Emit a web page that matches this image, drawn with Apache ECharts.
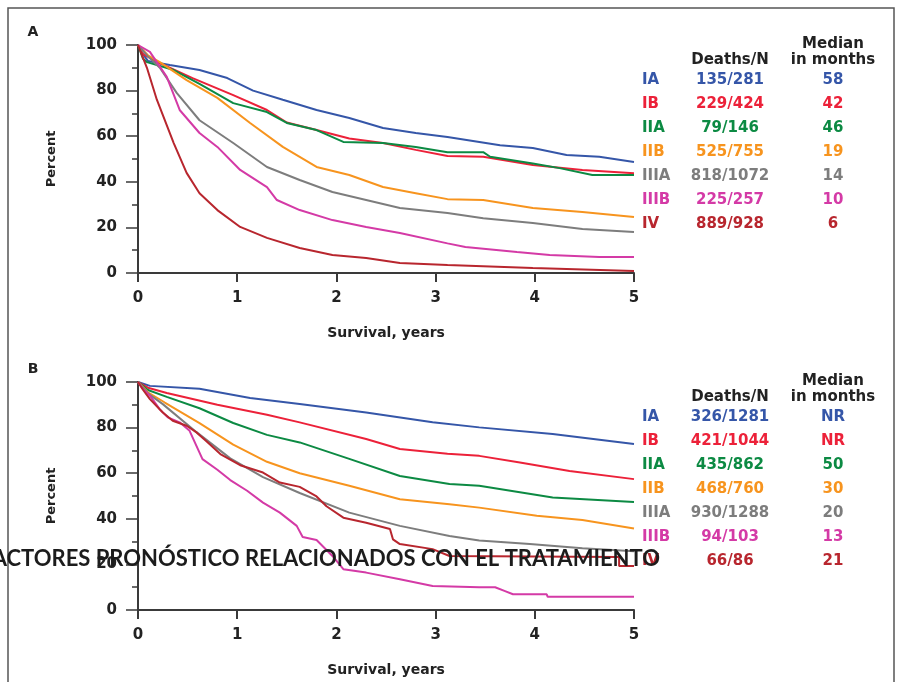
<!DOCTYPE html>
<html>
<head>
<meta charset="utf-8">
<script src="https://cdn.jsdelivr.net/npm/echarts@6/dist/echarts.min.js"></script>
<style>
  html, body { margin: 0; padding: 0; background: #fff; }
  #chart { width: 899px; height: 682px; }
</style>
</head>
<body>
<div id="chart"></div>
<script>
// stages and their colours (same for both panels)
const stages = ["IA", "IB", "IIA", "IIB", "IIIA", "IIIB", "IV"];
const colors = ["#3556a8", "#ec2139", "#0c8a43", "#f7941e", "#7d7d7d", "#d43aa6", "#b8262e"];

// panel A table
const deathsA = ["135/281", "229/424", "79/146", "525/755", "818/1072", "225/257", "889/928"];
const medianA = ["58", "42", "46", "19", "14", "10", "6"];
// panel B table
const deathsB = ["326/1281", "421/1044", "435/862", "468/760", "930/1288", "94/103", "66/86"];
const medianB = ["NR", "NR", "50", "30", "20", "13", "21"];

const xTicks = [0, 1, 2, 3, 4, 5];
const yTicks = [0, 20, 40, 60, 80, 100];

// survival curves, [years, percent]
const aIA = [[0,100],[0.05,96],[0.1,93],[0.32,91.2],[0.62,89],[0.9,85.5],[1.16,80],[1.46,76],[1.8,71.5],[2.13,68],[2.47,63.6],[2.8,61.4],[3.12,59.6],[3.65,56],[3.98,54.8],[4.32,51.8],[4.65,51],[5,48.7]];
const aIB = [[0,100],[0.05,96],[0.22,92],[0.55,85.5],[0.96,78],[1.3,71.5],[1.5,66],[1.8,62.7],[2.13,59],[2.47,57],[2.8,54],[3.12,51.3],[3.48,51],[3.98,47.4],[4.48,45.2],[5,43.8]];
const aIIA = [[0,100],[0.05,94],[0.09,92.5],[0.36,89],[0.62,83],[0.96,74.5],[1.3,70.6],[1.5,65.8],[1.8,62.7],[2.07,57.5],[2.47,57],[2.8,55.3],[3.12,53],[3.48,53],[3.55,51],[3.98,48],[4.25,46],[4.58,43],[5,43]];
const aIIB = [[0,100],[0.1,95.5],[0.22,92.5],[0.49,84.6],[0.8,76.8],[1.13,65.8],[1.46,55.3],[1.8,46.5],[2.13,43],[2.47,37.7],[2.8,35],[3.12,32.4],[3.48,32],[3.98,28.5],[4.48,26.8],[5,24.6]];
const aIIIA = [[0,100],[0.1,95],[0.22,90],[0.39,79],[0.62,67],[0.96,57],[1.3,46.5],[1.63,40.8],[1.96,35.5],[2.3,32],[2.64,28.5],[3.12,26.3],[3.48,24],[3.98,21.9],[4.48,19.3],[5,18]];
const aIIIB = [[0,100],[0.12,97],[0.29,86],[0.42,71.5],[0.62,61.4],[0.8,55.3],[1.03,45.2],[1.3,37.7],[1.4,32],[1.63,27.6],[1.96,23.2],[2.3,20.2],[2.64,17.5],[3.12,13],[3.3,11.4],[3.82,9.2],[4.15,7.9],[4.65,7],[5,7]];
const aIV = [[0,100],[0.09,90],[0.19,76],[0.36,57],[0.49,43.9],[0.62,35],[0.8,27.6],[1.03,20.2],[1.3,15.4],[1.63,11],[1.96,7.9],[2.3,6.6],[2.64,4.4],[3.12,3.5],[3.98,2.2],[5,0.9]];

const bIA = [[0,100],[0.12,98.3],[0.62,97],[1.13,93],[1.63,90.3],[2.3,86.6],[2.97,82.3],[3.44,80.1],[4.18,77.2],[5,72.8]];
const bIB = [[0,100],[0.1,97.5],[0.29,95.2],[0.8,90],[1.3,85.6],[1.63,82.3],[2.3,75],[2.64,70.6],[3.12,68.5],[3.44,67.6],[3.85,64.7],[4.35,61],[5,57.4]];
const bIIA = [[0,100],[0.1,96.5],[0.29,93.5],[0.62,88.5],[0.96,82],[1.3,76.8],[1.63,73.5],[2.13,66.3],[2.64,58.8],[3.14,55.3],[3.44,54.5],[4.18,49.3],[5,47.4]];
const bIIB = [[0,100],[0.1,95.5],[0.27,91],[0.62,82],[0.96,72.5],[1.3,65],[1.63,60],[2.13,54.5],[2.64,48.6],[3.14,46.4],[3.44,44.9],[4.02,41.3],[4.48,39.5],[5,35.7]];
const bIIIA = [[0,100],[0.1,95],[0.25,90.3],[0.59,78],[0.93,66.5],[1.26,58.3],[1.63,51.3],[2.13,42.7],[2.64,36.9],[3.14,32.5],[3.44,30.5],[3.95,28.9],[4.48,27.1],[5,25.8]];
const bIIIB = [[0,100],[0.05,97],[0.12,94],[0.22,88],[0.3,84.5],[0.42,82.3],[0.52,78.6],[0.65,66.2],[0.8,61.5],[0.93,57],[1.1,52.3],[1.26,47.1],[1.43,42.7],[1.6,36.9],[1.66,32],[1.8,30.7],[1.96,23.7],[2.07,17.9],[2.3,16.4],[2.64,13.5],[2.97,10.5],[3.44,10],[3.6,10],[3.7,8.3],[3.78,6.9],[4.12,6.9],[4.13,5.8],[5,5.8]];
const bIV = [[0,100],[0.05,96.6],[0.12,92.5],[0.25,86.6],[0.35,83],[0.49,80.8],[0.59,77.9],[0.69,74],[0.83,68.4],[1.03,63.5],[1.26,60.3],[1.43,55.9],[1.63,54],[1.8,49.8],[1.9,45.5],[2.07,40.5],[2.3,38.3],[2.54,35.5],[2.57,31],[2.64,28.9],[2.97,26.7],[3.14,23.7],[4.85,23.2],[4.85,19.3],[5,19.3]];

const curvesA = [aIA, aIB, aIIA, aIIB, aIIIA, aIIIB, aIV];
const curvesB = [bIA, bIB, bIIA, bIIB, bIIIA, bIIIB, bIV];

const overlayTitle = "FACTORES PRONÓSTICO RELACIONADOS CON EL TRATAMIENTO";

const chartInstance = echarts.init(document.getElementById("chart"), null, { renderer: "canvas" });

const axisColor = "#3a3a3a";
const tickFont = { fontFamily: "DejaVu Sans", fontWeight: "bold", fontSize: 15, color: "#222" };

function makeXAxis(gridIndex) {
  return {
    type: "value",
    gridIndex: gridIndex,
    min: xTicks[0],
    max: xTicks[xTicks.length - 1],
    interval: 1,
    name: "Survival, years",
    nameLocation: "middle",
    nameGap: 53,
    nameTextStyle: { fontFamily: "DejaVu Sans", fontWeight: "bold", fontSize: 14, color: "#222" },
    axisLine: { lineStyle: { color: axisColor, width: 2 } },
    axisTick: { length: 9, lineStyle: { color: axisColor, width: 2 } },
    axisLabel: Object.assign({ margin: 18 }, tickFont),
    splitLine: { show: false },
  };
}

function makeYAxis(gridIndex) {
  return {
    type: "value",
    gridIndex: gridIndex,
    min: yTicks[0],
    max: yTicks[yTicks.length - 1],
    interval: 20,
    name: "Percent",
    nameLocation: "middle",
    nameRotate: 90,
    nameGap: 80,
    nameTextStyle: { fontFamily: "DejaVu Sans", fontWeight: "bold", fontSize: 13, color: "#222" },
    axisLine: { show: true, lineStyle: { color: axisColor, width: 2 } },
    axisTick: { length: 12, lineStyle: { color: axisColor, width: 1.5 } },
    minorTick: { show: true, splitNumber: 2, length: 6, lineStyle: { color: axisColor, width: 1.5 } },
    axisLabel: Object.assign({ margin: 21 }, tickFont),
    splitLine: { show: false },
  };
}

const series = [];
curvesA.forEach((d, i) => {
  series.push({
    name: "A " + stages[i], type: "line", xAxisIndex: 0, yAxisIndex: 0,
    data: d, showSymbol: false, smooth: false,
    lineStyle: { color: colors[i], width: 2 }, itemStyle: { color: colors[i] },
  });
});
curvesB.forEach((d, i) => {
  series.push({
    name: "B " + stages[i], type: "line", xAxisIndex: 1, yAxisIndex: 1,
    data: d, showSymbol: false, smooth: false,
    lineStyle: { color: colors[i], width: 2 }, itemStyle: { color: colors[i] },
  });
});

// legend tables drawn as text
function tableTexts(top, deaths, medians) {
  const out = [];
  const head = { fontFamily: "DejaVu Sans", fontWeight: "bold", fontSize: 15, fill: "#222" };
  out.push({ type: "text", x: 833, y: top - 16, style: Object.assign({ text: "Median", align: "center", verticalAlign: "middle" }, head) });
  out.push({ type: "text", x: 833, y: top, style: Object.assign({ text: "in months", align: "center", verticalAlign: "middle" }, head) });
  out.push({ type: "text", x: 730, y: top, style: Object.assign({ text: "Deaths/N", align: "center", verticalAlign: "middle" }, head) });
  stages.forEach((s, i) => {
    const y = top + 20 + i * 24;
    const st = { fontFamily: "DejaVu Sans", fontWeight: "bold", fontSize: 15, fill: colors[i], verticalAlign: "middle" };
    out.push({ type: "text", x: 642, y: y, style: Object.assign({ text: s, align: "left" }, st) });
    out.push({ type: "text", x: 730, y: y, style: Object.assign({ text: deaths[i], align: "center" }, st) });
    out.push({ type: "text", x: 833, y: y, style: Object.assign({ text: medians[i], align: "center" }, st) });
  });
  return out;
}

const graphic = [
  { type: "rect", shape: { x: 8, y: 8, width: 886, height: 700 }, style: { fill: "none", stroke: "#555", lineWidth: 1.5 } },
  { type: "text", x: 33, y: 32, style: { text: "A", fontFamily: "DejaVu Sans", fontWeight: "bold", fontSize: 14, fill: "#222", align: "center", verticalAlign: "middle" } },
  { type: "text", x: 33, y: 369, style: { text: "B", fontFamily: "DejaVu Sans", fontWeight: "bold", fontSize: 14, fill: "#222", align: "center", verticalAlign: "middle" } },
]
  .concat(tableTexts(60, deathsA, medianA))
  .concat(tableTexts(397, deathsB, medianB))
  .concat([
    { type: "text", x: 660, y: 559, z: 100, style: { text: overlayTitle, fontFamily: "Lato", fontWeight: "bold", fontSize: 22, fill: "#1c1c1c", align: "right", verticalAlign: "middle" } },
  ]);

const option = {
  animation: false,
  backgroundColor: "#fff",
  grid: [
    { left: 138, top: 45, width: 496, height: 228 },
    { left: 138, top: 382, width: 496, height: 228 },
  ],
  xAxis: [makeXAxis(0), makeXAxis(1)],
  yAxis: [makeYAxis(0), makeYAxis(1)],
  series: series,
  graphic: graphic,
};

chartInstance.setOption(option);
</script>
</body>
</html>
